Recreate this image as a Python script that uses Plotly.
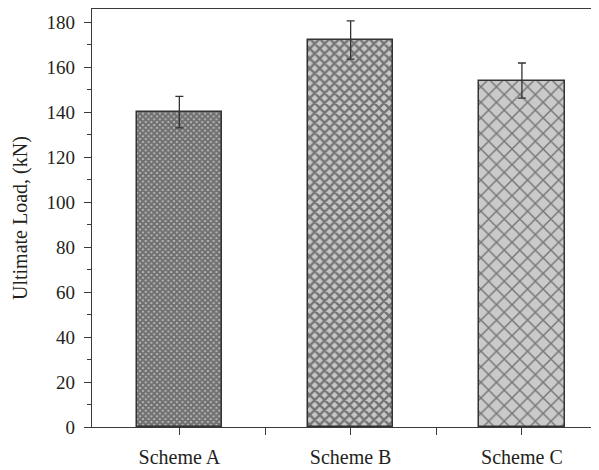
import plotly.graph_objects as go

categories = ["Scheme A", "Scheme B", "Scheme C"]
values = [140, 172, 154]
errors = [7, 8.5, 7.8]
y_ticks = [0, 20, 40, 60, 80, 100, 120, 140, 160, 180]
y_title = "Ultimate Load, (kN)"

positions = list(range(len(categories)))
pattern_sizes = [4, 7, 11]
pattern_solidity = [0.8, 0.55, 0.25]
bg_colors = ["#c8c8c8", "#c8c8c8", "#cacaca"]
fg_colors = ["#1a1a1a", "#1e1e1e", "#222222"]

fig = go.Figure()
for i, cat in enumerate(categories):
    fig.add_trace(go.Bar(
        x=[positions[i]], y=[values[i]], width=0.5, name=cat,
        marker=dict(
            color=bg_colors[i],
            line=dict(color="#333333", width=1.5),
            pattern=dict(shape="x", size=pattern_sizes[i], solidity=pattern_solidity[i],
                         fgcolor=fg_colors[i], bgcolor=bg_colors[i], fillmode="overlay"),
        ),
        error_y=dict(type="data", array=[errors[i]], visible=True,
                     color="#333333", thickness=1.3, width=4),
        showlegend=False,
    ))

font_family = "Liberation Serif, Times New Roman, serif"
text_color = "#231f20"
axis_color = "#3a3a3a"
# The page body keeps an 8px browser margin, so the figure is sized and
# offset to land on the reference's pixel positions.
fig.update_layout(
    width=591, height=462,
    margin=dict(l=83.5, r=0, t=0.7, b=42.5),
    paper_bgcolor="white", plot_bgcolor="white",
    font=dict(family=font_family, size=19, color=text_color),
    bargap=0,
    xaxis=dict(
        range=[-0.51, 2.45], tickmode="array", tickvals=positions, ticktext=categories,
        showline=True, linecolor=axis_color, linewidth=1.3, mirror=True,
        ticks="outside", ticklen=7, tickcolor=axis_color, tickwidth=1.3,
        minor=dict(tickmode="array", tickvals=[0.5, 1.5], ticks="outside", ticklen=7,
                   tickcolor=axis_color, tickwidth=1.3),
        showgrid=False, zeroline=False, automargin=False,
        ticklabelstandoff=5,
        tickfont=dict(family=font_family, size=20, color=text_color),
    ),
    yaxis=dict(
        range=[0, 185.8], tickmode="array", tickvals=y_ticks,
        showline=True, linecolor=axis_color, linewidth=1.3, mirror=True,
        ticks="outside", ticklen=7, tickcolor=axis_color, tickwidth=1.3,
        minor=dict(dtick=10, ticks="outside", ticklen=4, tickcolor=axis_color, tickwidth=1.3),
        showgrid=False, zeroline=False, automargin=False,
        ticklabelstandoff=5,
        tickfont=dict(family=font_family, size=19, color=text_color),
    ),
    annotations=[dict(
        text=y_title, textangle=-90, xref="paper", yref="paper",
        x=0, y=0.5, xanchor="center", yanchor="middle", xshift=-72,
        showarrow=False, font=dict(family=font_family, size=20, color=text_color),
    )],
)

fig.write_html("out.html")
